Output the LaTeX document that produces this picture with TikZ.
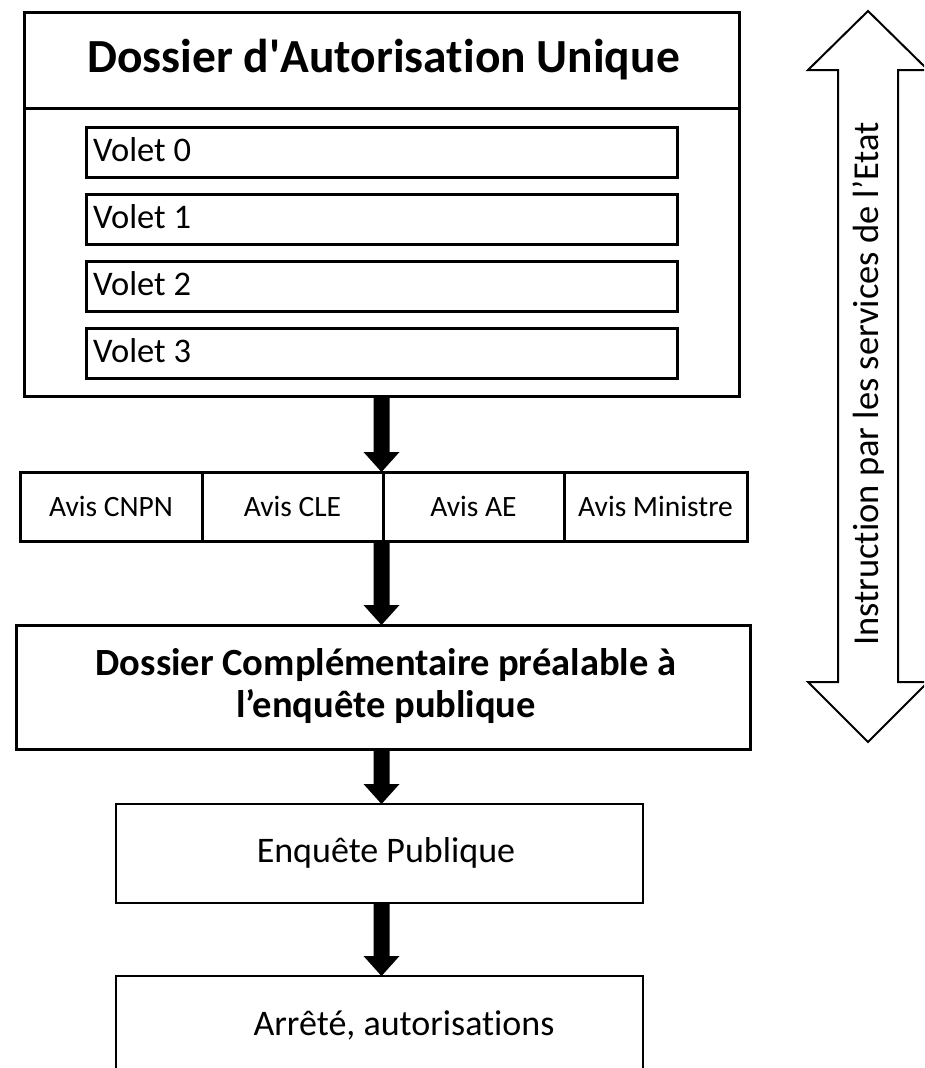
\documentclass[tikz,border=0pt]{standalone}
\usepackage{fontspec}
\setmainfont{Carlito}[Ligatures={NoCommon}]
\usetikzlibrary{calc}
\newcommand\flowarrow[2]{%
  \fill let \p1=(#1), \p2=(#2) in
    (\x1-8pt,\y1) -- (\x1+8pt,\y1) -- (\x1+8pt,\y2+20pt) -- (\x1+18pt,\y2+20pt)
    -- (\x1,\y2) -- (\x1-18pt,\y2+20pt) -- (\x1-8pt,\y2+20pt) -- cycle;}
\tikzset{
  thickbox/.style={draw, line width=3pt, inner sep=0pt, outer sep=0pt},
  thinbox/.style={draw, line width=2.3pt, inner sep=0pt, outer sep=0pt},
  txt/.style={inner sep=0pt, outer sep=0pt},
}
\begin{document}
\begin{tikzpicture}[x=1pt,y=1pt]
\useasboundingbox (0,0) rectangle (924,-1068);
\clip (0,0) rectangle (924,-1068);
\fill[white] (0,0) rectangle (924,-1068);
% main box
\node[thickbox, minimum width=715pt, minimum height=384pt] (dau) at (381.5,-204) {};
\draw[line width=3pt] (dau.west |- 0,-108) coordinate (divl) -- (dau.east |- 0,-108) coordinate (divr);
\node[txt, anchor=base, font=\bfseries\fontsize{47.5}{52}\selectfont] (title) at (383.5,-72) {Dossier d\textquotesingle Autorisation Unique};
% volets
\foreach \i/\yc in {0/152, 1/219, 2/286.5, 3/353.5}{
  \node[thickbox, minimum width=591pt, minimum height=50pt] (v\i) at (381.5,-\yc) {};
  \node[txt, anchor=base west, font=\fontsize{34.5}{38}\selectfont] (vt\i) at (93,-\yc-9) {Volet \i};
}
% avis row
\tikzset{avis/.style={thickbox, minimum height=69pt, font=\fontsize{29.5}{32}\selectfont}}
\node[avis, minimum width=182pt] (cnpn) at (111,-506.5) {Avis CNPN};
\node[avis, minimum width=181pt] (cle) at (292.5,-506.5) {Avis CLE};
\node[avis, minimum width=181pt] (ae) at (473.5,-506.5) {Avis AE};
\node[avis, minimum width=183pt] (min) at (655.5,-506.5) {Avis Ministre};
\coordinate (avtop) at (381.5,-472);
\coordinate (avbot) at (381.5,-541);
% dossier complementaire
\node[thickbox, minimum width=734pt, minimum height=124pt] (dcp) at (383,-687) {};
\node[txt, anchor=base, font=\bfseries\fontsize{38.5}{41}\selectfont] (dcpa) at (386,-675) {Dossier Complémentaire préalable à};
\node[txt, anchor=base, font=\bfseries\fontsize{38.5}{41}\selectfont] (dcpb) at (386,-717) {l’enquête publique};
% enquete
\node[thinbox, minimum width=527pt, minimum height=99pt] (enq) at (379.5,-853.5) {};
\node[txt, anchor=base, font=\fontsize{36}{40}\selectfont] (enqt) at (386,-862) {Enquête Publique};
% arrete
\node[thinbox, minimum width=527pt, minimum height=108pt] (arr) at (379.5,-1030) {};
\node[txt, anchor=base, font=\fontsize{36}{40}\selectfont] (arrt) at (404,-1035) {Arrêté, autorisations};
% flow arrows
\coordinate (a1s) at (381.5,-396);
\coordinate (a3s) at (381.5,-749);
\coordinate (a3e) at (381.5,-804);
\coordinate (a4s) at (381.5,-903);
\coordinate (a4e) at (381.5,-976);
\coordinate (a2e) at (381.5,-625);
\flowarrow{a1s}{avtop}
\flowarrow{avbot}{a2e}
\flowarrow{a3s}{a3e}
\flowarrow{a4s}{a4e}
% double arrow
\draw[line width=2pt, line join=miter, fill=white]
  (868,-11) -- (928,-70) -- (898,-70) -- (898,-682) -- (928,-682) -- (868,-742)
  -- (808,-682) -- (838,-682) -- (838,-70) -- (808,-70) -- cycle;
\node[txt, rotate=90, anchor=base, font=\fontsize{36.5}{40}\selectfont] (instr) at (878,-384) {Instruction par les services de l’Etat};
\end{tikzpicture}
\end{document}
